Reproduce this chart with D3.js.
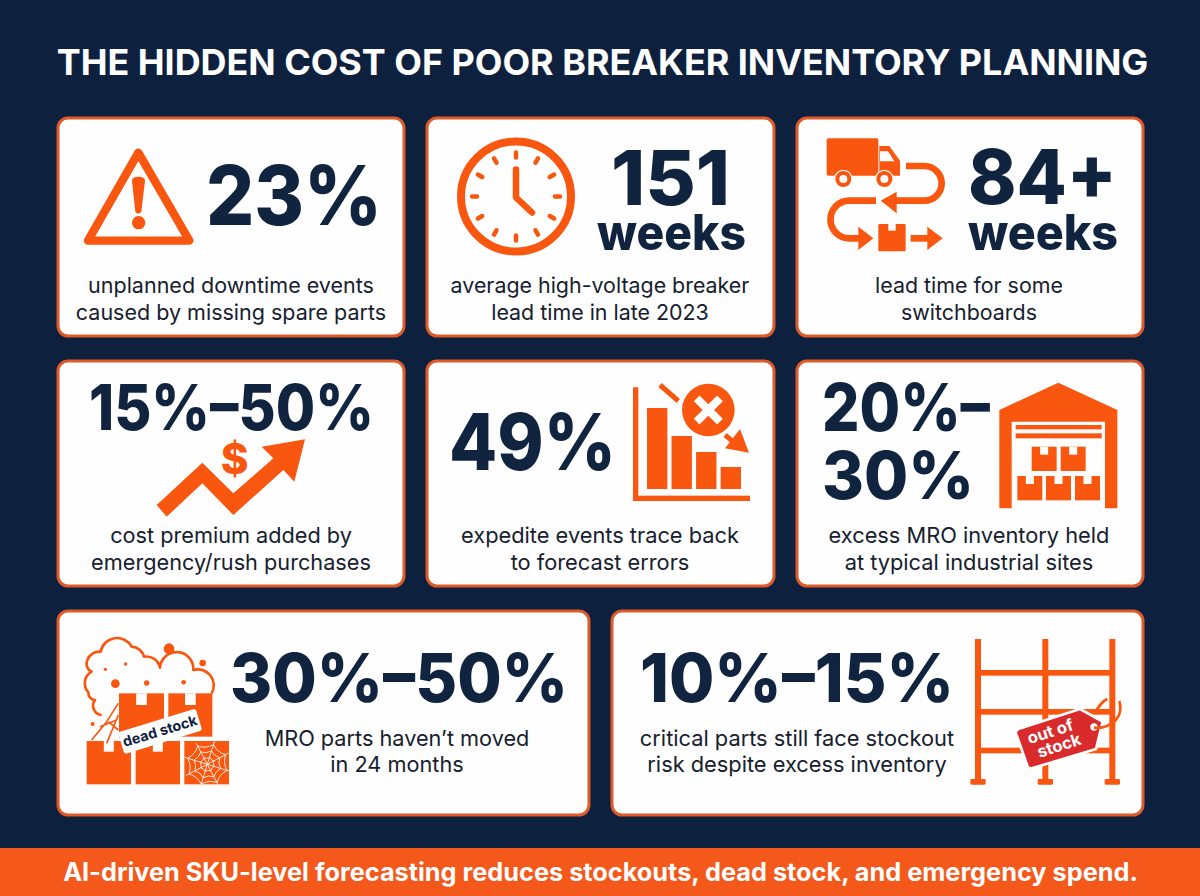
<!DOCTYPE html>
<html><head><meta charset="utf-8">
<script src="https://cdn.jsdelivr.net/npm/d3@7"></script>
<style>html,body{margin:0;padding:0;background:#0d213f}svg{display:block}text{font-family:Inter,"Noto Sans",sans-serif}</style>
</head><body><div id="chart"></div>
<script>
const titleText = "THE HIDDEN COST OF POOR BREAKER INVENTORY PLANNING";
const bannerText = "AI-driven SKU-level forecasting reduces stockouts, dead stock, and emergency spend.";
const statLines = [["23%"],["151","weeks"],["84+","weeks"],["15%–50%"],["49%"],["20%–","30%"],["30%–50%"],["10%–15%"]];
const captionLines = [
  ["unplanned downtime events","caused by missing spare parts"],
  ["average high-voltage breaker","lead time in late 2023"],
  ["lead time for some","switchboards"],
  ["cost premium added by","emergency/rush purchases"],
  ["expedite events trace back","to forecast errors"],
  ["excess MRO inventory held","at typical industrial sites"],
  ["MRO parts haven’t moved","in 24 months"],
  ["critical parts still face stockout","risk despite excess inventory"]];
const forecastBars = [81,53,37,22];

const NAVY="#10233f", ORANGE="#f9560f", EDGE="#df5a28", BG="#0d213f";
const svg=d3.select("#chart").append("svg").attr("width",1200).attr("height",896);
svg.append("rect").attr("width",1200).attr("height",896).attr("fill",BG);

const frames=[[58,404,118,336],[427,774,118,336],[797,1143,118,336],
 [58,404,361,586],[427,774,361,586],[797,1143,361,586],[58,589,611,815],[612,1143,611,815]];
// stat placement: left edge, baseline, font size and fitted width per line
const statPos=[
 {x:[206],b:[225],s:[82],w:[176]},
 {x:[611,597],b:[205,250],s:[76,50],w:[119,149]},
 {x:[968,968],b:[204,250],s:[76,50],w:[149,150]},
 {x:[89],b:[430],s:[63],w:[285]},
 {x:[449],b:[470],s:[78],w:[167]},
 {x:[822,822],b:[431,499],s:[66,66],w:[168,152]},
 {x:[230],b:[702],s:[68],w:[338]},
 {x:[640],b:[702],s:[68],w:[314]}];
const capPos=[
 {x:231,y:[293,320],s:21.5},{x:600,y:[293,320],s:21.4},{x:969,y:[293,320],s:21.4},
 {x:231,y:[543,570],s:21.7},{x:600,y:[543,570],s:21.8},{x:969,y:[543,570],s:21.8},
 {x:397,y:[746,772],s:21.7},{x:797,y:[746,772],s:21.8}];

svg.append("text").attr("x",602.5).attr("y",75).attr("text-anchor","middle").attr("fill","#fff")
  .attr("font-size",35.9).attr("font-weight",700).text(titleText);

svg.selectAll("rect.card").data(frames).join("rect").attr("class","card")
  .attr("x",d=>d[0]).attr("y",d=>d[2]).attr("width",d=>d[1]-d[0]).attr("height",d=>d[3]-d[2])
  .attr("rx",10).attr("fill","#fefefe").attr("stroke",EDGE).attr("stroke-width",3);

statLines.forEach((lines,i)=>{const p=statPos[i];
  lines.forEach((t,j)=>svg.append("text").attr("x",p.x[j]).attr("y",p.b[j])
    .attr("textLength",p.w[j]).attr("lengthAdjust","spacingAndGlyphs")
    .attr("font-size",p.s[j]).attr("font-weight",800).attr("fill",NAVY).text(t));});
captionLines.forEach((lines,i)=>{const p=capPos[i];
  lines.forEach((t,j)=>svg.append("text").attr("x",p.x).attr("y",p.y[j]).attr("text-anchor","middle")
    .attr("font-size",p.s).attr("fill","#16202e").text(t));});

svg.append("rect").attr("y",848).attr("width",1200).attr("height",48).attr("fill","#f4581a");
svg.append("text").attr("x",600.5).attr("y",881).attr("text-anchor","middle").attr("fill","#fff")
  .attr("font-size",25.3).attr("font-weight",700).text(bannerText);

const icon=(x,y)=>svg.append("g").attr("transform",`translate(${x},${y}) scale(${1/3})`);
const poly=(g,pts,fill=ORANGE)=>g.append("polygon").attr("points",pts).attr("fill",fill);
const box=(g,x,y,w,h,fill=ORANGE)=>g.append("rect").attr("x",x).attr("y",y).attr("width",w).attr("height",h).attr("fill",fill);
const line=(g,d,sw,col=ORANGE,cap="butt")=>g.append("path").attr("d",d).attr("fill","none").attr("stroke",col).attr("stroke-width",sw).attr("stroke-linecap",cap).attr("stroke-linejoin","round");
const notched=(g,x,y,w,h,nw,nh)=>{box(g,x,y,w,h);box(g,x+(w-nw)/2,y,nw,nh,"#fefefe");};

// warning
{const g=icon(50,110);
 g.append("path").attr("d","M265,128 L114,392 L418,392 Z").attr("fill","none").attr("stroke",ORANGE).attr("stroke-width",25).attr("stroke-linejoin","round");
 g.append("path").attr("d","M246,212 Q246,200 265,200 Q285,200 285,212 L274,305 Q265,316 256,305 Z").attr("fill",ORANGE);
 g.append("circle").attr("cx",266).attr("cy",338).attr("r",20).attr("fill",ORANGE);}

// clock
{const cx=516,cy=196.5;const g=svg.append("g").attr("transform",`translate(${cx},${cy})`);
 g.append("circle").attr("r",55).attr("fill","none").attr("stroke",ORANGE).attr("stroke-width",8);
 d3.range(12).forEach(i=>{const a=i*Math.PI/6;const r0=39,r1=44;
  g.append("line").attr("x1",Math.sin(a)*r0).attr("y1",-Math.cos(a)*r0).attr("x2",Math.sin(a)*r1).attr("y2",-Math.cos(a)*r1)
   .attr("stroke",ORANGE).attr("stroke-width",4.5).attr("stroke-linecap","round");});
 line(g,"M0,-27 L0,1 L16,16",6.5,ORANGE,"round");}

// truck + flow
{const g=icon(790,110);
 g.append("rect").attr("x",110).attr("y",85).attr("width",155).attr("height",112).attr("rx",6).attr("fill",ORANGE);
 g.append("path").attr("d","M268,108 L298,108 L330,152 L330,197 L268,197 Z").attr("fill",ORANGE);
 poly(g,"270,124 294,124 313,154 270,154","#fefefe");
 [160,283].forEach(x=>{g.append("circle").attr("cx",x).attr("cy",207).attr("r",28).attr("fill","#fefefe");
   g.append("circle").attr("cx",x).attr("cy",207).attr("r",24).attr("fill",ORANGE);
   g.append("circle").attr("cx",x).attr("cy",207).attr("r",12).attr("fill","#fefefe");});
 line(g,"M348,168 L403,168 A52,52 0 0 1 403,272 L310,272",20);
 poly(g,"272,272 320,245 320,310");
 line(g,"M258,272 L178,272 A56,56 0 0 0 178,385 L210,385",20);
 poly(g,"250,385 205,350 205,420");
 g.append("rect").attr("x",265).attr("y",342).attr("width",82).attr("height",82).attr("rx",4).attr("fill",ORANGE);
 box(g,295,342,22,20,"#fefefe");
 line(g,"M362,385 L415,385",20);
 poly(g,"458,385 412,350 412,420");}

// rising cost arrow
{const g=icon(140,430);
 poly(g,"50,225 187,98 280,190 400,85 365,50 495,28 463,155 430,120 280,255 187,160 80,260");
 g.append("text").attr("x",284).attr("y",131).attr("text-anchor","middle").attr("font-size",126).attr("font-weight",800).attr("fill",ORANGE).text("$");}

// forecast bar chart
{const g=svg.append("g");
 const xb=d3.scaleBand().domain(d3.range(forecastBars.length)).range([647,741]).paddingInner(0.17);
 const yb=d3.scaleLinear().domain([0,81]).range([489,408]);
 g.selectAll("rect").data(forecastBars).join("rect").attr("x",(d,i)=>xb(i)).attr("y",d=>yb(d)).attr("width",xb.bandwidth()).attr("height",d=>489-yb(d)).attr("fill",ORANGE);
 const h=icon(420,355);
 box(h,639,97,16,341);box(h,639,422,351,16);
 line(h,"M720,90 L775,138",15);
 h.append("circle").attr("cx",865).attr("cy",165).attr("r",79).attr("fill",ORANGE);
 line(h,"M830,130 L900,200 M900,130 L830,200",24,"#fefefe");
 line(h,"M915,240 L950,268",15);
 poly(h,"987,293 960,222 915,280");}

// warehouse
{const g=icon(990,370);
 poly(g,"205,38 382,120 382,415 345,415 345,155 65,155 65,415 28,415 28,120");
 box(g,77,165,258,13);box(g,77,190,258,15);
 [[125,230],[212,230],[82,318],[168,318],[255,318]].forEach(([x,y])=>notched(g,x,y,75,73,24,24));}

// dead stock
{const g=icon(50,605);
 g.append("path").attr("d","M155,330 A28,28 0 0 1 135,285 A22,22 0 0 1 115,262 A40,40 0 0 1 125,200 A26,26 0 0 1 112,165 A38,38 0 0 1 152,140 A50,50 0 0 1 245,125 A40,40 0 0 1 282,155 A42,42 0 0 1 330,188 A42,42 0 0 1 430,195 A48,48 0 0 1 485,265 L207,330 Z")
  .attr("fill","#fefefe").attr("stroke","none");
 line(g,"M155,330 A28,28 0 0 1 135,285 A22,22 0 0 1 115,262 A40,40 0 0 1 125,200 A26,26 0 0 1 112,165 A38,38 0 0 1 152,140 A50,50 0 0 1 245,125 A40,40 0 0 1 282,155 A42,42 0 0 1 330,188 A42,42 0 0 1 430,195 A48,48 0 0 1 485,265",8);
 [[357,131,16],[458,174,10],[196,236,13],[290,234,8],[401,232,7],[166,193,5],[227,177,5],[128,357,6]].forEach(([x,y,r])=>g.append("circle").attr("cx",x).attr("cy",y).attr("r",r).attr("fill",ORANGE));
 notched(g,207,265,135,135,32,35);notched(g,355,265,132,130,32,35);
 notched(g,110,408,133,130,30,32);notched(g,257,408,133,130,30,32);
 box(g,403,408,134,130);
 line(g,"M205,295 L170,350 L125,405 M205,330 L170,415 M150,365 L200,345 M175,350 L205,375",5,ORANGE);
 const cx=472,cy=478;
 d3.range(8).forEach(i=>{const a=i*Math.PI/4+0.3;line(g,`M${cx},${cy} L${cx+Math.cos(a)*72},${cy+Math.sin(a)*72}`,3,"#fbe6d8");});
 [22,42,62].forEach(r=>{let d="";d3.range(9).forEach(i=>{const a=i*Math.PI/4+0.3;const X=cx+Math.cos(a)*r,Y=cy+Math.sin(a)*r;d+=(i?`Q${cx+Math.cos(a-Math.PI/8)*r*.75},${cy+Math.sin(a-Math.PI/8)*r*.75} `:"M")+`${X},${Y} `;});line(g,d,3,"#fbe6d8");});
 const lab=g.append("g").attr("transform","translate(330,379) rotate(-17)");
 lab.append("rect").attr("x",-122).attr("y",-34).attr("width",244).attr("height",68).attr("rx",7).attr("fill","#fff");
 lab.append("text").attr("y",14).attr("text-anchor","middle").attr("font-size",43).attr("font-weight",700).attr("fill",NAVY).text("dead stock");}

// shelving + tag
{const g=icon(950,605);
 [75,277,478].forEach(x=>{box(g,x,102,18,428);g.append("rect").attr("x",x-14).attr("y",522).attr("width",46).attr("height",17).attr("rx",4).attr("fill",ORANGE);});
 [195,312,428].forEach(y=>box(g,90,y,390,17));
 line(g,"M440,315 Q455,290 472,282",9);
 g.append("path").attr("d","M205,372 L390,312 L458,350 L438,432 L246,490 Q236,492 232,482 L198,385 Q196,376 205,372 Z")
  .attr("fill","#d92b2b").attr("stroke","#fff").attr("stroke-width",8).attr("stroke-linejoin","round");
 g.append("circle").attr("cx",432).attr("cy",366).attr("r",11).attr("fill","#fff");
 line(g,"M432,368 Q470,372 498,345 Q518,320 508,288",8);
 const t=g.append("g").attr("transform","rotate(-18 320 400)").attr("text-anchor","middle").attr("fill","#fff").attr("font-size",50).attr("font-weight",700);
 t.append("text").attr("x",308).attr("y",392).text("out of");
 t.append("text").attr("x",320).attr("y",440).text("stock");}
</script></body></html>
